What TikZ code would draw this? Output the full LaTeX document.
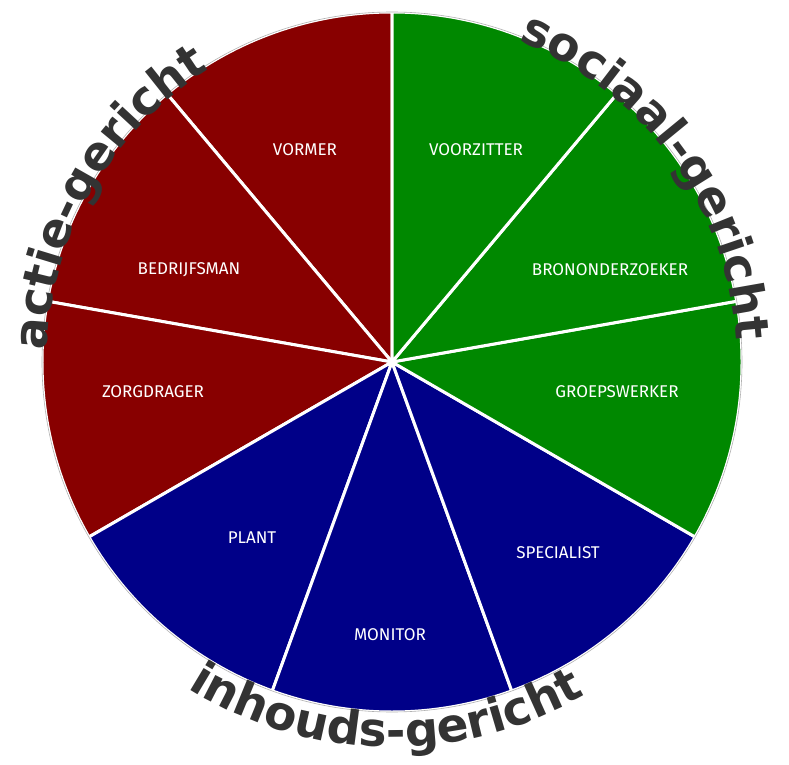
\documentclass[tikz,border=0pt]{standalone}
\usepackage{fontspec}
\setmainfont{Fira Sans}
\newfontfamily\bigfont{DejaVu Sans}
\usetikzlibrary{decorations.text}
\definecolor{rd}{HTML}{880000}
\definecolor{gr}{HTML}{008800}
\definecolor{bl}{HTML}{000088}
\definecolor{tx}{HTML}{333333}
\tikzset{
  sect/.style={fill=#1,draw=white,line width=3pt},
  lab/.style={text=white,font=\fontsize{17}{19}\selectfont},
  arcword/.style={decorate,decoration={text along path,text align=center,
    text={|\bigfont\bfseries\fontsize{47}{52}\selectfont\color{tx}|#1}}}
}
\begin{document}
\begin{tikzpicture}[x=1pt,y=1pt]
\useasboundingbox (0,0) rectangle (789,764);
\coordinate (c) at (392,402);
\def\R{350}
\foreach \a/\col in {90/rd,130/rd,170/rd,210/bl,250/bl,290/bl,330/gr,370/gr,410/gr}{
  \draw[sect=\col] (c) -- ++(\a:\R) arc[start angle=\a,end angle=\a+40,radius=\R] -- cycle;
}
\draw[gray!60,line width=0.6pt] (c) circle[radius=\R];
\node[lab] (vormer) at (305,614) {VORMER};
\node[lab] (voorz) at (476,614) {VOORZITTER};
\node[lab] (bron) at (610,494) {BRONONDERZOEKER};
\node[lab] (groep) at (617,372) {GROEPSWERKER};
\node[lab] (spec) at (558,211) {SPECIALIST};
\node[lab] (mon) at (390,129) {MONITOR};
\node[lab] (plant) at (252,226) {PLANT};
\node[lab] (zorg) at (153,372) {ZORGDRAGER};
\node[lab] (bedr) at (189,494) {BEDRIJFSMAN};
\path[arcword={sociaal-gericht}] (c) ++(92:345) arc[start angle=92,end angle=-20,radius=345];
\path[arcword={actie-gericht}] (c) ++(188:345) arc[start angle=188,end angle=112,radius=345];
\path[arcword={inhouds-gericht}] (c) ++(-140:385) arc[start angle=-140,end angle=-42,radius=385];
\end{tikzpicture}
\end{document}
